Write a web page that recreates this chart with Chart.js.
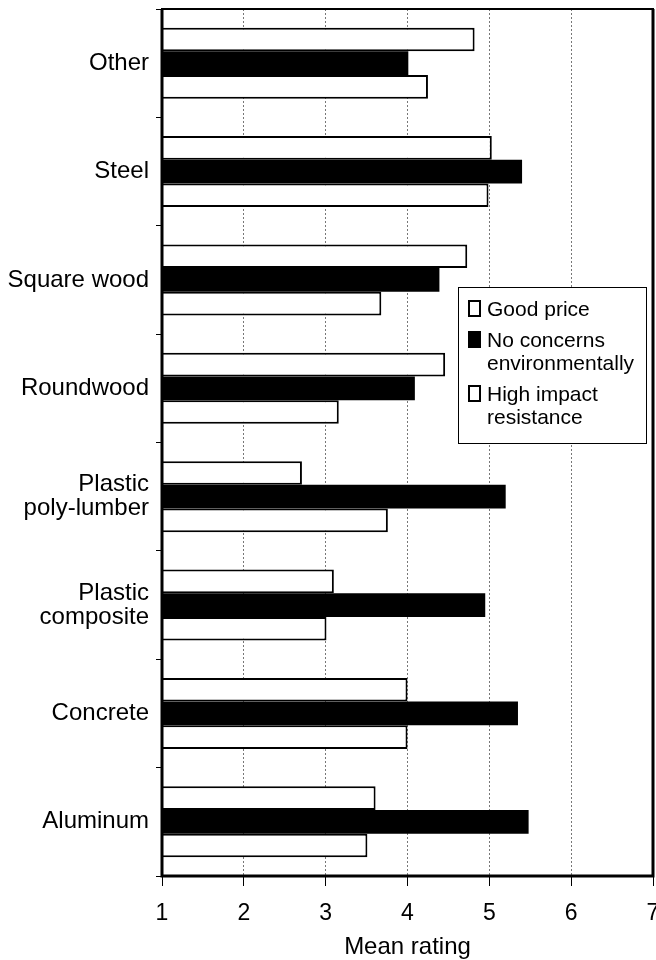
<!DOCTYPE html>
<html><head><meta charset="utf-8">
<script src="https://cdn.jsdelivr.net/npm/chart.js@4.4.1/dist/chart.umd.min.js"></script>
<style>html,body{margin:0;padding:0;background:#fff}#wrap{width:656px;height:960px;position:relative}</style>
</head><body><div id="wrap"><canvas id="c" width="656" height="960"></canvas></div>
<script>
const categories = [['Other'],['Steel'],['Square wood'],['Roundwood'],['Plastic','poly-lumber'],['Plastic','composite'],['Concrete'],['Aluminum']];
const seriesNames = ['Good price','No concerns environmentally','High impact resistance'];
const legendLines = [['Good price'],['No concerns','environmentally'],['High impact','resistance']];
const goodPrice = [4.82,5.03,4.73,4.46,2.71,3.10,4.00,3.61];
const noConcerns = [4.01,5.40,4.39,4.09,5.20,4.95,5.35,5.48];
const highImpact = [4.25,4.99,3.68,3.16,3.76,3.01,4.00,3.51];
const xMin = 1, xMax = 7, xStep = 1;
const axisTitle = 'Mean rating';

const FONT = 'Liberation Sans, Arial, sans-serif';

const framePlugin = {
  id: 'frame',
  afterDatasetsDraw(chart) {
    const a = chart.chartArea, ctx = chart.ctx;
    ctx.save();
    ctx.strokeStyle = '#000';
    ctx.lineWidth = 3;
    ctx.beginPath();
    ctx.moveTo(a.left, a.top); ctx.lineTo(a.left, a.bottom); ctx.lineTo(a.right, a.bottom); ctx.lineTo(a.right, a.top);
    ctx.stroke();
    ctx.lineWidth = 2;
    ctx.beginPath();
    ctx.moveTo(a.left - 1, a.top); ctx.lineTo(a.right + 1, a.top);
    ctx.stroke();
    ctx.restore();
  }
};

const legendPlugin = {
  id: 'boxLegend',
  afterDraw(chart) {
    const ctx = chart.ctx;
    const bx = 458, by = 287, bw = 188, bh = 156;
    ctx.save();
    ctx.fillStyle = '#fff';
    ctx.fillRect(bx, by, bw, bh);
    ctx.strokeStyle = '#000';
    ctx.lineWidth = 1;
    ctx.strokeRect(bx + 0.5, by + 0.5, bw, bh);
    ctx.font = '21px ' + FONT;
    ctx.textBaseline = 'alphabetic';
    ctx.textAlign = 'left';
    const baselines = [[316], [347, 370], [401, 424]];
    chart.data.datasets.forEach((ds, i) => {
      const b0 = baselines[i][0];
      ctx.fillStyle = ds.backgroundColor;
      ctx.fillRect(468, b0 - 16, 13, 17);
      ctx.lineWidth = 2;
      ctx.strokeStyle = '#000';
      ctx.strokeRect(469, b0 - 15, 11, 15);
      ctx.fillStyle = '#000';
      legendLines[i].forEach((t, j) => ctx.fillText(t, 487, baselines[i][j]));
    });
    ctx.restore();
  }
};

const mk = (label, data, fill) => ({
  label, data, base: xMin,
  backgroundColor: fill,
  borderColor: '#000',
  borderWidth: fill === '#000' ? 0 : 2,
  borderSkipped: 'start',
  categoryPercentage: 0.655,
  barPercentage: 1.0
});

new Chart(document.getElementById('c'), {
  type: 'bar',
  data: {
    labels: categories,
    datasets: [
      mk(seriesNames[0], goodPrice, '#fff'),
      mk(seriesNames[1], noConcerns, '#000'),
      mk(seriesNames[2], highImpact, '#fff')
    ]
  },
  options: {
    indexAxis: 'y',
    responsive: false,
    animation: false,
    layout: { padding: { top: 9, right: 3, left: 0, bottom: 0 } },
    plugins: { legend: { display: false }, tooltip: { enabled: false } },
    scales: {
      x: {
        type: 'linear', min: xMin, max: xMax,
        afterFit(s) { s.height = 84; s.paddingLeft = 0; s.paddingRight = 0; },
        ticks: { stepSize: xStep, color: '#000', font: { family: FONT, size: 23 }, padding: 14 },
        grid: { color: '#777', lineWidth: 1, drawTicks: true, tickLength: 10, tickColor: '#000', tickWidth: 1, tickBorderDash: [] },
        border: { display: false, dash: [2, 2] },
        title: { display: true, text: axisTitle, color: '#000', font: { family: FONT, size: 24, lineHeight: 1.0 }, padding: { top: 0, bottom: 1 } }
      },
      y: {
        type: 'category',
        afterFit(s) { s.width = 162; s.paddingTop = 0; s.paddingBottom = 0; },
        ticks: { color: '#000', font: { family: FONT, size: 24, lineHeight: 1.0 }, padding: 7 },
        grid: { drawOnChartArea: false, drawTicks: true, tickLength: 6, tickColor: '#000', tickWidth: 1, offset: true },
        border: { display: false }
      }
    }
  },
  plugins: [framePlugin, legendPlugin]
});
</script>
</body></html>
